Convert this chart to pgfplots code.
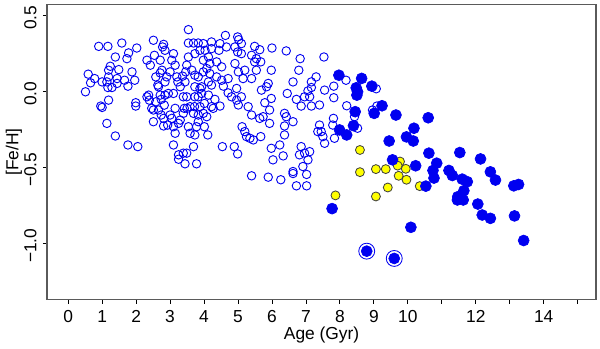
\documentclass[border=0pt]{standalone}
\usepackage{pgfplots}
\pgfplotsset{compat=1.18}
\usetikzlibrary{calc}
\usepackage{fontspec}
\setmainfont{Liberation Sans}

% field stars (open), old thick-disc stars (filled), yellow group
\pgfplotstableread{
age feh
0.51 -0.003
0.59 0.113
0.66 0.056
0.78 0.084
0.90 0.296
1.17 0.296
1.58 0.318
2.02 0.285
1.78 0.253
1.73 0.215
1.39 0.226
1.00 0.062
1.14 0.062
1.19 0.095
1.19 0.139
1.24 0.165
1.29 0.025
1.17 0.025
1.44 0.084
1.44 0.052
1.49 0.143
1.66 0.073
1.76 0.034
1.88 0.128
1.96 0.073
1.99 -0.075
1.99 -0.097
0.96 -0.097
1.00 -0.106
1.19 -0.058
1.14 -0.211
1.39 -0.294
1.76 -0.353
2.05 -0.364
2.37 -0.025
2.32 0.205
2.42 0.172
2.51 0.336
2.54 0.237
2.58 0.095
2.64 0.041
2.66 0.030
2.71 0.121
2.78 0.292
2.81 0.309
2.85 0.270
2.71 0.205
2.76 0.139
2.85 0.062
2.90 0.095
3.00 0.128
3.05 0.205
3.10 0.248
3.15 0.172
3.20 0.095
3.23 0.062
3.30 0.030
3.37 0.100
3.44 0.062
3.46 0.128
3.49 0.172
3.54 0.226
3.54 0.318
3.54 0.406
3.69 0.318
3.83 0.318
3.88 0.270
3.73 0.248
3.64 0.139
3.73 0.106
3.83 0.095
3.73 0.030
3.88 0.019
2.32 -0.036
2.39 -0.058
2.46 -0.112
2.58 -0.069
2.74 -0.053
2.83 -0.091
2.66 -0.123
2.74 -0.156
2.81 -0.178
3.00 -0.156
2.93 -0.222
2.81 -0.228
3.05 -0.178
3.10 -0.233
3.15 -0.276
3.25 -0.211
3.30 -0.189
3.42 -0.112
3.39 -0.145
3.50 -0.112
3.59 -0.101
3.72 -0.101
3.69 -0.145
3.83 -0.156
3.88 -0.101
3.73 -0.036
3.83 -0.036
3.49 -0.036
3.39 -0.036
3.15 -0.112
3.10 -0.014
2.95 -0.014
2.85 -0.025
2.71 -0.025
2.51 -0.123
2.51 -0.200
3.10 -0.353
3.25 -0.418
3.39 -0.407
3.49 -0.407
3.25 -0.447
3.44 -0.477
3.78 -0.477
3.59 -0.276
3.73 -0.287
3.69 -0.364
3.54 -0.233
3.78 -0.233
3.83 -0.200
4.63 0.368
4.99 0.358
5.02 0.340
3.98 0.314
4.22 0.325
4.47 0.314
4.66 0.292
4.91 0.292
5.10 0.314
5.49 0.296
5.64 0.274
6.00 0.285
6.42 0.266
4.03 0.270
4.22 0.281
4.44 0.270
4.99 0.259
5.10 0.248
5.40 0.237
5.54 0.215
5.67 0.194
5.49 0.194
6.83 0.215
7.53 0.226
4.13 0.226
3.98 0.205
4.17 0.183
4.37 0.194
4.52 0.161
4.91 0.183
5.01 0.128
5.20 0.139
5.54 0.139
5.98 0.139
6.79 0.139
4.08 0.150
3.98 0.128
4.17 0.117
4.37 0.095
4.52 0.073
4.13 0.062
4.71 0.084
5.15 0.084
5.40 0.084
7.30 0.095
6.62 0.062
7.16 0.062
8.18 0.073
3.93 0.030
4.22 0.041
4.57 0.034
4.96 0.019
5.89 0.052
5.84 0.030
5.69 0.008
7.55 0.008
7.16 0.025
7.06 0.003
6.96 -0.036
7.11 -0.036
6.45 -0.014
6.72 -0.053
6.86 -0.097
7.16 -0.097
7.40 -0.090
7.82 0.034
7.82 -0.042
9.07 0.017
9.09 -0.097
3.93 -0.014
4.13 -0.025
4.32 -0.053
4.71 -0.010
4.81 -0.036
4.96 -0.058
5.01 -0.090
5.30 -0.101
5.79 -0.075
5.98 -0.047
5.93 -0.123
4.01 -0.080
4.22 -0.101
4.47 -0.097
3.98 -0.145
4.08 -0.167
4.27 -0.112
5.10 -0.036
5.40 -0.156
5.64 -0.178
5.74 -0.167
5.93 -0.211
6.37 -0.145
6.42 -0.167
6.62 -0.200
7.40 -0.222
7.45 -0.265
7.35 -0.265
7.50 -0.298
7.55 -0.342
7.79 -0.222
7.84 -0.309
8.43 -0.167
8.52 -0.243
8.96 -0.123
8.20 -0.095
7.81 -0.178
4.01 -0.233
4.11 -0.287
5.12 -0.233
5.20 -0.265
5.25 -0.298
5.35 -0.309
5.45 -0.320
5.67 -0.298
6.37 -0.228
6.37 -0.287
6.23 -0.353
5.98 -0.375
4.89 -0.364
4.99 -0.412
4.54 -0.364
6.86 -0.364
6.96 -0.407
7.11 -0.397
6.81 -0.418
7.06 -0.451
6.33 -0.425
6.03 -0.451
6.91 -0.495
6.62 -0.528
5.40 -0.556
5.89 -0.565
6.26 -0.582
6.62 -0.541
7.02 -0.547
6.72 -0.622
7.02 -0.622
}\openstars

\pgfplotstableread{
age feh
7.97 0.106
8.64 0.085
8.94 0.034
8.48 0.023
8.52 -0.003
8.50 -0.025
9.24 -0.095
8.45 -0.134
9.01 -0.145
9.65 -0.156
10.60 -0.174
8.40 -0.226
7.99 -0.254
8.20 -0.287
10.18 -0.243
9.96 -0.300
10.16 -0.327
9.45 -0.327
10.62 -0.407
11.53 -0.403
12.14 -0.445
10.23 -0.490
10.85 -0.473
10.74 -0.521
11.21 -0.521
12.43 -0.530
9.55 -0.451
10.77 -0.571
11.31 -0.554
7.77 -0.772
8.79 -1.052
9.60 -1.100
11.60 -0.578
11.75 -0.595
12.58 -0.584
10.53 -0.624
13.12 -0.622
13.26 -0.613
11.65 -0.654
11.47 -0.694
11.46 -0.715
11.63 -0.715
12.06 -0.742
12.19 -0.814
12.43 -0.836
13.14 -0.820
13.41 -0.982
10.09 -0.895
}\filledstars

\pgfplotstableread{
age feh
8.59 -0.386
9.77 -0.462
9.70 -0.489
9.94 -0.510
9.06 -0.512
9.35 -0.512
8.59 -0.532
9.73 -0.556
9.96 -0.582
9.41 -0.633
10.35 -0.624
7.87 -0.685
9.06 -0.692
}\yellowstars

\pgfplotstableread{
age feh
8.79 -1.052
9.60 -1.100
}\ringed

\definecolor{boxgray}{RGB}{90,90,90}
\definecolor{ptblue}{RGB}{0,0,240}
\definecolor{ptyellow}{RGB}{255,255,0}

\begin{document}
\begin{tikzpicture}
\fontsize{10.5}{12}\selectfont
\begin{axis}[
    scale only axis,
    width=330.6bp, height=177.6bp,
    xmin=-0.62, xmax=15.54,
    ymin=-1.369, ymax=0.572,
    xtick={0,1,2,3,4,5,6,7,8,9,10,11,12,13,14,15},
    xticklabels={0,1,2,3,4,5,6,7,8,9,10,,12,,14,},
    ytick={-1,-0.5,0,0.5},
    yticklabels={−1.0,−0.5,0.0,0.5},
    tick pos=left,
    tick align=outside,
    major tick length=2.6bp,
    tick style={black, line width=0.5bp},
    axis line style={boxgray, line width=0.8bp},
    xticklabel style={yshift=-0.5bp},
    yticklabel style={rotate=90, anchor=south, xshift=-1.5bp},
    xlabel={Age (Gyr)},
    ylabel={[Fe/H]},
    xlabel style={at={(axis description cs:0.5,0)}, anchor=center, yshift=-21.5bp},
    ylabel style={at={(axis description cs:0,0.5)}, anchor=center, yshift=20bp},
    clip=false,
]
\addplot[only marks, mark=o, mark size=2.55bp, color=ptblue, mark options={line width=0.55bp}]
    table[x=age, y=feh] {\openstars};
\addplot[only marks, mark=*, mark size=2.7bp, mark options={fill=ptyellow, draw=black!75, line width=0.5bp}]
    table[x=age, y=feh] {\yellowstars};
\addplot[only marks, mark=*, mark size=3.3bp, color=ptblue, mark options={fill=ptblue}]
    table[x=age, y=feh] {\filledstars};
\addplot[only marks, mark=o, mark size=4.8bp, color=ptblue, mark options={line width=0.5bp}]
    table[x=age, y=feh] {\ringed};
\end{axis}
\path ($(current axis.south west)+(-27bp,-27bp)$) rectangle ($(current axis.north east)+(2.4bp,2.4bp)$);
\end{tikzpicture}
\end{document}
